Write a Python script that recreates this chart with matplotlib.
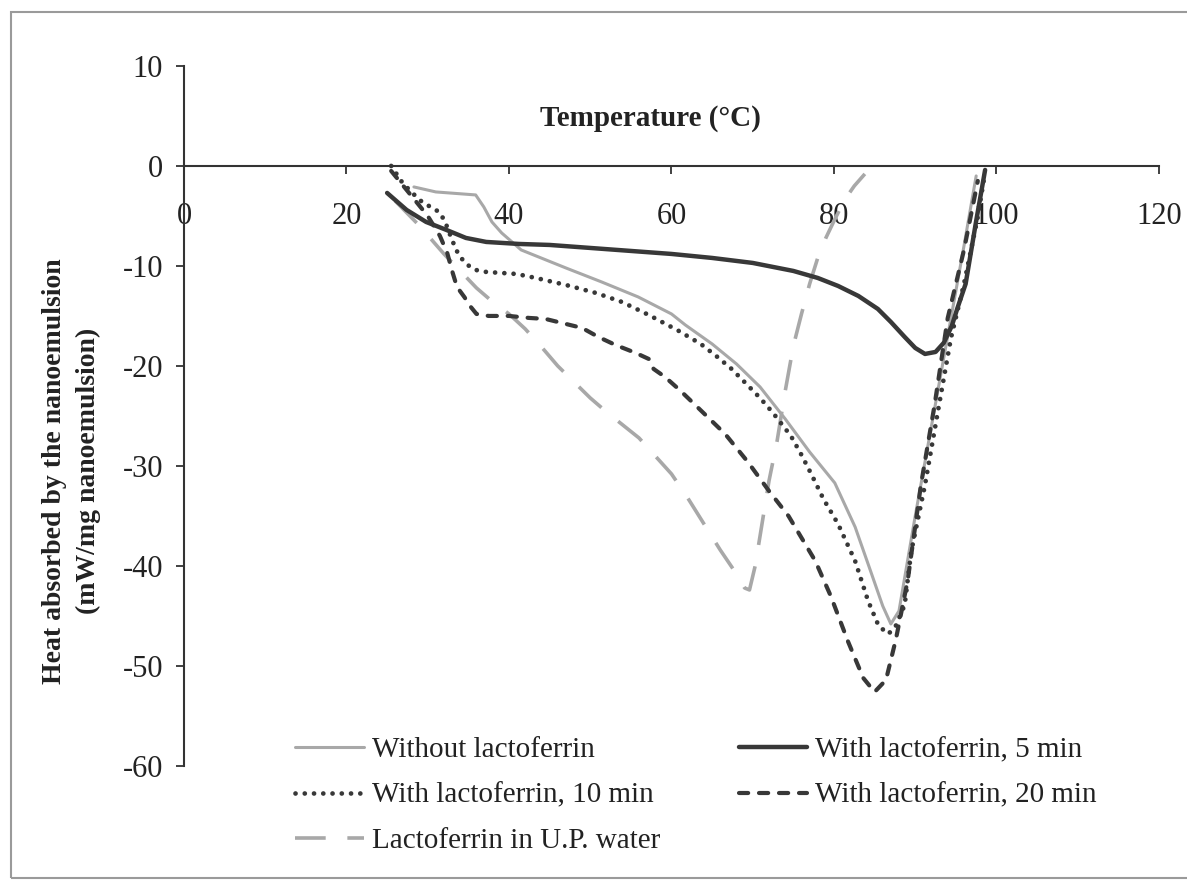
import matplotlib
matplotlib.use("Agg")
import matplotlib.pyplot as plt
from matplotlib.patches import Rectangle

plt.rcParams['font.family'] = ['Liberation Serif', 'DejaVu Serif']
plt.rcParams['axes.unicode_minus'] = False

# DSC thermograms: heat absorbed (mW/mg) versus temperature (°C)
without_t = [28.3, 31.0, 35.9, 36.9, 37.9, 39.1, 41.5, 47.0, 51.4, 55.9, 60.0, 61.7,
             65.0, 68.0, 70.9, 74.0, 77.0, 80.1, 82.6, 84.5, 86.0, 87.0, 88.0, 90.0,
             92.0, 94.0, 96.0, 97.5]
without_q = [-2.1, -2.6, -2.9, -4.1, -5.6, -6.7, -8.4, -10.2, -11.6, -13.1, -14.8, -15.9,
             -17.8, -19.8, -22.1, -25.3, -28.6, -31.7, -36.1, -40.5, -44.0, -45.8, -44.5, -35.0,
             -26.0, -17.0, -8.0, -1.0]

min5_t = [25.0, 27.4, 29.8, 32.3, 34.7, 37.2, 41.2, 45.0, 50.0, 55.0, 60.0, 65.0, 70.0,
          75.0, 78.0, 80.5, 83.0, 85.4, 87.0, 88.7, 90.0, 91.2, 92.5, 93.5, 94.5, 95.2,
          96.2, 97.5, 98.6]
min5_q = [-2.7, -4.4, -5.6, -6.4, -7.2, -7.6, -7.8, -7.9, -8.2, -8.5, -8.8, -9.2, -9.7,
          -10.5, -11.2, -12.0, -13.0, -14.3, -15.6, -17.1, -18.2, -18.8, -18.6, -17.7, -16.0, -14.2,
          -11.8, -5.5, -0.4]

min10_t = [25.5, 26.9, 28.1, 29.3, 31.4, 32.1, 32.9, 33.5, 34.1, 34.9, 35.9, 37.2, 40.9,
           43.3, 47.0, 50.7, 53.9, 57.2, 60.9, 63.6, 65.5, 67.4, 69.1, 70.9, 72.5, 74.7,
           76.0, 77.2, 78.7, 80.5, 82.6, 84.2, 85.5, 86.7, 87.6, 88.7, 89.5, 91.2, 92.8,
           94.4, 96.0, 97.7, 98.5]
min10_q = [0.0, -1.7, -2.7, -3.6, -4.6, -5.5, -7.2, -8.4, -9.2, -9.9, -10.4, -10.6, -10.8,
           -11.2, -11.9, -12.7, -13.6, -14.9, -16.5, -17.8, -19.0, -20.3, -21.7, -23.2, -24.7, -27.0,
           -28.9, -30.8, -33.3, -35.8, -39.5, -43.5, -46.0, -46.8, -46.0, -43.9, -38.6, -31.9, -24.5,
           -17.2, -11.8, -5.1, -1.1]

min20_t = [25.5, 27.0, 28.5, 30.0, 31.5, 32.4, 33.0, 33.6, 34.5, 35.3, 36.0, 37.5, 40.0,
           42.5, 44.5, 49.0, 51.0, 53.1, 55.6, 57.2, 57.8, 59.2, 61.0, 63.3, 66.6, 69.4,
           72.0, 74.4, 77.7, 79.6, 81.7, 83.6, 85.0, 86.4, 87.6, 88.2, 89.1, 90.7, 92.4,
           94.0, 96.0, 97.7]
min20_q = [-0.5, -2.0, -3.5, -5.0, -7.0, -8.7, -10.5, -12.1, -13.1, -14.1, -14.8, -15.0, -15.0,
           -15.2, -15.3, -16.2, -17.1, -17.9, -18.7, -19.3, -20.3, -21.1, -22.4, -24.2, -26.8, -29.6,
           -32.5, -35.0, -39.5, -43.0, -47.5, -51.2, -52.6, -51.4, -47.4, -45.0, -41.3, -31.9, -23.8,
           -15.2, -8.4, -1.5]

water_t = [26.0, 29.0, 32.0, 34.0, 36.0, 38.0, 40.0, 42.0, 44.0, 46.0, 48.0, 50.0, 52.0,
           54.0, 56.0, 58.0, 60.0, 62.0, 64.0, 66.0, 68.0, 69.0, 69.6, 70.3, 71.0, 72.0,
           73.0, 74.0, 75.0, 76.0, 77.0, 78.0, 79.0, 80.0, 81.3, 82.5, 83.8]
water_q = [-3.5, -6.0, -8.8, -10.5, -12.2, -13.6, -14.8, -16.3, -18.1, -20.0, -21.6, -23.2, -24.6,
           -25.9, -27.2, -29.0, -30.8, -33.2, -35.8, -38.4, -40.8, -42.2, -42.4, -40.0, -36.5, -31.5,
           -27.5, -22.5, -18.0, -14.8, -11.8, -9.2, -7.2, -5.5, -3.4, -2.0, -0.8]

x_ticks = [0, 20, 40, 60, 80, 100, 120]
y_ticks = [10, 0, -10, -20, -30, -40, -50, -60]

dark = '#383838'
light = '#a8a8a8'

fig = plt.figure(figsize=(11.87, 8.85), dpi=100)
ax = fig.add_axes([0.155, 0.1345, 0.8214, 0.791])

ax.plot(without_t, without_q, color=light, lw=2.2, solid_capstyle='round',
        label='Without lactoferrin')
ax.plot(water_t, water_q, color=light, lw=2.6, linestyle=(0, (8.5, 6)),
        label='Lactoferrin in U.P. water')
ax.plot(min5_t, min5_q, color=dark, lw=3.2, solid_capstyle='round',
        label='With lactoferrin, 5 min')
ax.plot(min10_t, min10_q, color=dark, lw=3.4, linestyle=(0, (0.01, 1.95)),
        dash_capstyle='round', label='With lactoferrin, 10 min')
ax.plot(min20_t, min20_q, color=dark, lw=3.0, linestyle=(0, (2.2, 2.6)),
        dash_capstyle='round', label='With lactoferrin, 20 min')

ax.set_xlim(0, 120)
ax.set_ylim(-60, 10)
ax.set_xticks(x_ticks)
ax.set_yticks(y_ticks)
ax.set_yticklabels([str(v) for v in y_ticks])

for side in ('top', 'right'):
    ax.spines[side].set_visible(False)
ax.spines['bottom'].set_position(('data', 0))
for side in ('left', 'bottom'):
    ax.spines[side].set_color('#333333')
    ax.spines[side].set_linewidth(1.5)

ax.tick_params(axis='both', direction='out', length=6, width=1.3, color='#333333',
               labelsize=22, labelcolor='#222222')
ax.tick_params(axis='x', pad=20)
ax.tick_params(axis='y', pad=9)

ax.set_xlabel('Temperature (°C)', fontsize=21, fontweight='bold', color='#222222')
ax.xaxis.set_label_coords(0.478, 0.925)
ax.xaxis.label.set_verticalalignment('center')

ax.set_ylabel('Heat absorbed by the nanoemulsion\n(mW/mg nanoemulsion)', fontsize=20,
              fontweight='bold', color='#222222', linespacing=1.45)
ax.yaxis.set_label_coords(-0.085, 0.421)

handles, labels = ax.get_legend_handles_labels()
order = [labels.index(n) for n in ['Without lactoferrin', 'With lactoferrin, 10 min',
                                    'Lactoferrin in U.P. water', 'With lactoferrin, 5 min',
                                    'With lactoferrin, 20 min']]
leg = fig.legend([handles[i] for i in order], [labels[i] for i in order], ncol=2,
                 loc='upper left', bbox_to_anchor=(0.2485, 0.1672), frameon=False,
                 fontsize=21, handlelength=2.35, handletextpad=0.28, columnspacing=2.7,
                 labelspacing=0.65, borderpad=0, borderaxespad=0)
for t in leg.get_texts():
    t.set_color('#222222')

# chart-area border
fig.patches.append(Rectangle((0.009, 0.008), 1.2, 0.978, transform=fig.transFigure,
                             fill=False, edgecolor='#9a9a9a', lw=1.5))

fig.savefig('out.png', dpi=100)
